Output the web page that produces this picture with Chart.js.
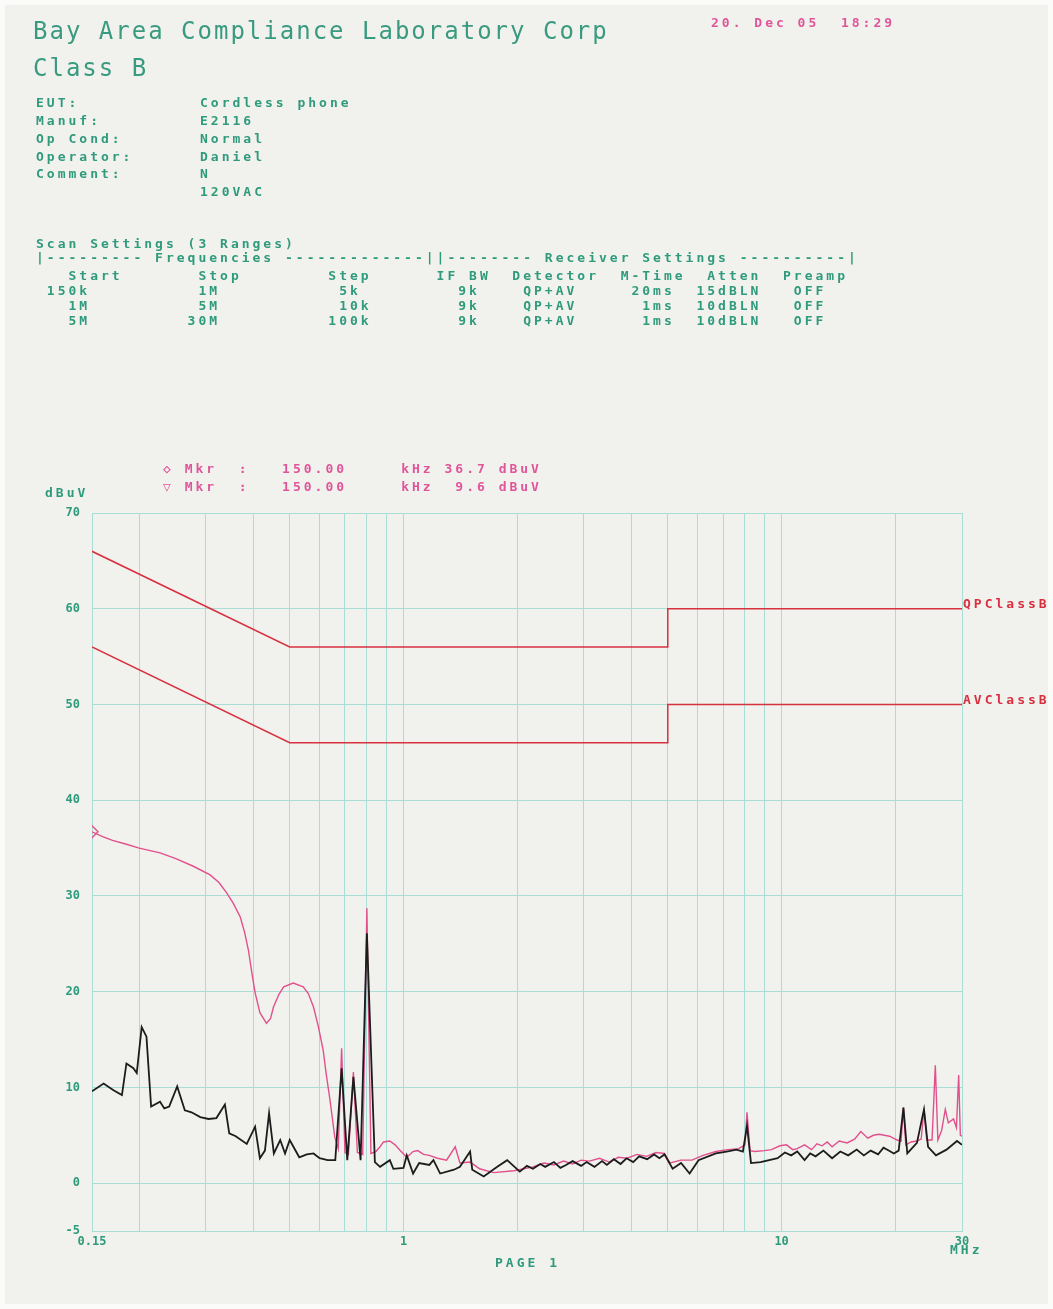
<!DOCTYPE html>
<html>
<head>
<meta charset="utf-8">
<script src="https://cdn.jsdelivr.net/npm/chart.js@4.4.0/dist/chart.umd.min.js"></script>
<style>
  html, body { margin: 0; padding: 0; background: #f1f2ee; }
  #wrap { position: relative; width: 1053px; height: 1309px; overflow: hidden; background: #f1f2ee; box-shadow: inset 0 0 0 5px #fbfbfa; }
  #emi { position: absolute; left: 0; top: 0; }
  .t { position: absolute; font-family: "DejaVu Sans Mono", monospace; white-space: pre; line-height: 1; }
  .big { font-size: 24px; letter-spacing: 2px; color: #3a9a80; }
  .sm { font-size: 13px; font-weight: bold; letter-spacing: 3px; color: #2f9a7c; }
  .pk { color: #e0559a; }
</style>
</head>
<body>
<div id="wrap">
  <canvas id="emi" width="1053" height="1309"></canvas>
</div>
<script>
// ---- data (MHz / dBuV) ----
var qpFreq = [0.15, 0.16, 0.17, 0.185, 0.2, 0.227, 0.25, 0.278, 0.308, 0.325, 0.341, 0.355, 0.37, 0.38, 0.389,
  0.397, 0.405, 0.417, 0.434, 0.445, 0.453, 0.468, 0.482, 0.511, 0.543, 0.56, 0.578, 0.595, 0.613, 0.625,
  0.639, 0.658, 0.672, 0.686, 0.7, 0.715, 0.737, 0.755, 0.78, 0.8, 0.82, 0.845, 0.867, 0.885, 0.92, 0.95,
  0.98, 1.02, 1.06, 1.09, 1.13, 1.17, 1.23, 1.3, 1.37, 1.41, 1.5, 1.59, 1.73, 1.96,
  2.2, 2.35, 2.5, 2.65, 2.8, 2.95, 3.1, 3.3, 3.5, 3.7, 3.9, 4.15, 4.4, 4.65, 4.9,
  5.07, 5.42, 5.79, 6.2, 6.7, 7.2, 7.7, 8.0, 8.1, 8.25, 8.5, 9.0,
  9.4, 9.9, 10.3, 10.7, 11.0, 11.5, 12.0, 12.4, 12.8, 13.2, 13.6,
  14.2, 14.9, 15.6, 16.2, 16.9, 17.5, 18.1, 19.3, 20.2, 20.7, 21.0, 21.3, 22.0, 22.8,
  23.4, 23.8, 24.2, 25.0, 25.5, 25.9, 26.5, 27.1, 27.6, 28.5, 29.0, 29.4, 29.7, 30];
var qpLevel = [36.7, 36.2, 35.8, 35.4, 35.0, 34.5, 33.9, 33.1, 32.2, 31.4, 30.3, 29.2, 27.8, 26.2, 24.3,
  22.0, 19.9, 17.8, 16.7, 17.2, 18.4, 19.7, 20.5, 20.9, 20.5, 19.8, 18.4, 16.4, 13.9, 11.3,
  8.7, 4.8, 3.6, 14.1, 3.2, 3.0, 11.6, 3.2, 3.0, 28.7, 3.1, 3.3, 3.8, 4.3, 4.4, 4.0,
  3.4, 2.7, 3.3, 3.4, 3.0, 2.9, 2.6, 2.4, 3.8, 2.1, 2.2, 1.5, 1.1, 1.3,
  1.7, 2.1, 1.9, 2.3, 2.0, 2.4, 2.3, 2.6, 2.2, 2.7, 2.6, 3.0, 2.8, 3.2, 3.1,
  2.1, 2.4, 2.4, 2.9, 3.3, 3.5, 3.6, 4.0, 7.4, 3.4, 3.3, 3.4,
  3.5, 3.9, 4.0, 3.5, 3.6, 4.0, 3.5, 4.1, 3.9, 4.3, 3.8,
  4.4, 4.2, 4.6, 5.4, 4.7, 5.0, 5.1, 4.9, 4.5, 4.4, 7.9, 4.0, 4.3, 4.4,
  4.6, 7.8, 4.5, 4.5, 12.3, 4.5, 5.5, 7.7, 6.3, 6.7, 5.8, 11.3, 5.0, 4.9];

var avFreq = [0.15, 0.161, 0.171, 0.18, 0.185, 0.193, 0.197, 0.203, 0.209, 0.215, 0.227, 0.233, 0.24, 0.252,
  0.264, 0.275, 0.29, 0.305, 0.32, 0.337, 0.346, 0.36, 0.385, 0.405, 0.417, 0.43, 0.441, 0.454, 0.472,
  0.486, 0.5, 0.53, 0.555, 0.578, 0.6, 0.63, 0.66, 0.686, 0.71, 0.737, 0.77, 0.8, 0.84, 0.867, 0.92,
  0.94, 1.0, 1.02, 1.06, 1.1, 1.17, 1.2, 1.25, 1.36, 1.41, 1.5, 1.52, 1.63, 1.77, 1.88,
  2.03, 2.12, 2.2, 2.3, 2.37, 2.5, 2.6, 2.69, 2.8, 2.95, 3.05, 3.2, 3.35, 3.45, 3.6, 3.75, 3.89, 4.05, 4.2, 4.41, 4.6, 4.75, 4.9,
  5.15, 5.42, 5.71, 6.03, 6.7, 7.15, 7.6, 7.9, 8.1, 8.3, 8.8,
  9.76, 10.2, 10.6, 11.0, 11.5, 11.9, 12.3, 12.9, 13.6, 14.3, 15.0, 15.8, 16.5, 17.2, 18.0, 18.6, 19.2, 19.8, 20.4,
  21.0, 21.5, 22.8, 23.8, 24.4, 25.6, 27.3, 29.1, 30];
var avLevel = [9.6, 10.4, 9.7, 9.2, 12.5, 12.0, 11.5, 16.3, 15.3, 8.0, 8.5, 7.8, 8.0, 10.1,
  7.6, 7.4, 6.9, 6.7, 6.8, 8.2, 5.2, 4.9, 4.1, 5.9, 2.6, 3.4, 7.3, 3.1, 4.5,
  3.1, 4.5, 2.7, 3.0, 3.1, 2.6, 2.4, 2.4, 12.0, 2.4, 11.1, 2.4, 26.1, 2.2, 1.7, 2.4,
  1.5, 1.6, 2.9, 1.0, 2.1, 1.9, 2.4, 1.0, 1.4, 1.7, 3.3, 1.4, 0.7, 1.7, 2.4,
  1.2, 1.8, 1.5, 2.0, 1.7, 2.2, 1.6, 1.9, 2.3, 1.8, 2.2, 1.7, 2.3, 1.9, 2.5, 2.0, 2.6, 2.2, 2.8, 2.5, 3.0, 2.6, 3.0,
  1.5, 2.1, 1.0, 2.4, 3.1, 3.3, 3.5, 3.3, 6.0, 2.1, 2.2,
  2.6, 3.2, 2.9, 3.3, 2.4, 3.1, 2.8, 3.4, 2.6, 3.3, 2.9, 3.5, 2.9, 3.4, 3.0, 3.7, 3.4, 3.1, 3.4,
  7.9, 3.1, 4.2, 7.7, 3.8, 2.9, 3.5, 4.4, 4.0];

var limitFreq = [0.15, 0.5, 5, 5, 30];
var qpLimitLevel = [66, 56, 56, 60, 60];
var avLimitLevel = [56, 46, 46, 50, 50];

var xGridTicks = [0.15, 0.2, 0.3, 0.4, 0.5, 0.6, 0.7, 0.8, 0.9, 1, 2, 3, 4, 5, 6, 7, 8, 9, 10, 20, 30];
var xLabelTicks = [0.15, 1, 10, 30];
var yTicks = [-5, 0, 10, 20, 30, 40, 50, 60, 70];

function pts(f, l) { return f.map(function (v, i) { return { x: v, y: l[i] }; }); }

var GREEN = '#2f9a7c';
var GRID = '#a9ddd6';
var PINK = '#e2508c';
var RED = '#d8303f';
var monoBold = { family: 'DejaVu Sans Mono', size: 12, weight: 'bold' };

// ---- page texts ----
var wrap = document.getElementById('wrap');
function put(text, x, cy, cls) {
  var d = document.createElement('div');
  d.className = 't ' + cls;
  d.textContent = text;
  d.style.left = x + 'px';
  d.style.top = (cy - (cls.indexOf('big') >= 0 ? 11.5 : 6.5)) + 'px';
  wrap.appendChild(d);
}
function row(items, x0, cy, cls) {
  var s = '';
  items.forEach(function (it) {
    while (s.length < it[0]) s += ' ';
    s += it[1];
  });
  put(s, x0, cy, cls);
}

put('Bay Area Compliance Laboratory Corp', 33, 30, 'big');
put('Class B', 33, 67, 'big');
put('20. Dec 05  18:29', 711, 22, 'sm pk');

var infoKeys = ['EUT:', 'Manuf:', 'Op Cond:', 'Operator:', 'Comment:', ''];
var infoVals = ['Cordless phone', 'E2116', 'Normal', 'Daniel', 'N', '120VAC'];
var infoY = [102, 120, 138, 156, 173, 191];
infoKeys.forEach(function (k, i) {
  put(k, 36, infoY[i], 'sm');
  put(infoVals[i], 200, infoY[i], 'sm');
});

put('Scan Settings (3 Ranges)', 36, 243, 'sm');
row([[0, '|---------'], [11, 'Frequencies'], [23, '-------------||'], [38, '--------'], [47, 'Receiver Settings'], [65, '----------|']], 36, 257, 'sm');
row([[3, 'Start'], [15, 'Stop'], [27, 'Step'], [37, 'IF BW'], [44, 'Detector'], [54, 'M-Time'], [62, 'Atten'], [69, 'Preamp']], 36, 275, 'sm');
row([[1, '150k'], [15, '1M'], [28, '5k'], [39, '9k'], [45, 'QP+AV'], [55, '20ms'], [61, '15dBLN'], [70, 'OFF']], 36, 290, 'sm');
row([[3, '1M'], [15, '5M'], [28, '10k'], [39, '9k'], [45, 'QP+AV'], [56, '1ms'], [61, '10dBLN'], [70, 'OFF']], 36, 305, 'sm');
row([[3, '5M'], [14, '30M'], [27, '100k'], [39, '9k'], [45, 'QP+AV'], [56, '1ms'], [61, '10dBLN'], [70, 'OFF']], 36, 320, 'sm');

row([[0, '\u25C7'], [2, 'Mkr'], [7, ':'], [11, '150.00'], [22, 'kHz'], [26, '36.7'], [31, 'dBuV']], 163, 468, 'sm pk');
row([[0, '\u25BD'], [2, 'Mkr'], [7, ':'], [11, '150.00'], [22, 'kHz'], [27, '9.6'], [31, 'dBuV']], 163, 486, 'sm pk');

put('dBuV', 45, 492, 'sm');
put('MHz', 950, 1249, 'sm');
put('PAGE 1', 495, 1262, 'sm');

// ---- limit line names ----
var limitLabels = {
  id: 'limitLabels',
  afterDatasetsDraw: function (chart) {
    var ctx = chart.ctx, x = chart.scales.x, y = chart.scales.y;
    ctx.save();
    ctx.font = 'bold 13px "DejaVu Sans Mono"';
    ctx.letterSpacing = '3px';
    ctx.fillStyle = RED;
    ctx.textBaseline = 'middle';
    ctx.fillText('QPClassB', x.right + 1, y.getPixelForValue(qpLimitLevel[qpLimitLevel.length - 1]) - 4);
    ctx.fillText('AVClassB', x.right + 1, y.getPixelForValue(avLimitLevel[avLimitLevel.length - 1]) - 4);
    ctx.restore();
  }
};

var config = {
  type: 'line',
  data: {
    datasets: [{
      label: 'AV',
      data: pts(avFreq, avLevel),
      borderColor: '#1c1c1c',
      borderWidth: 1.8,
      pointRadius: 0
    }, {
      label: 'QP',
      data: pts(qpFreq, qpLevel),
      borderColor: PINK,
      borderWidth: 1.4,
      pointStyle: 'rectRot',
      pointRadius: function (c) { return c.dataIndex === 0 ? 6 : 0; },
      pointBorderColor: PINK,
      pointBackgroundColor: 'rgba(0,0,0,0)',
      pointBorderWidth: 1.4
    }, {
      label: 'QPClassB',
      data: pts(limitFreq, qpLimitLevel),
      borderColor: RED,
      borderWidth: 1.5,
      pointRadius: 0
    }, {
      label: 'AVClassB',
      data: pts(limitFreq, avLimitLevel),
      borderColor: RED,
      borderWidth: 1.5,
      pointRadius: 0
    }]
  },
  options: {
    responsive: false,
    animation: false,
    events: [],
    layout: { padding: { left: 0, top: 513, right: 91, bottom: 0 } },
    plugins: { legend: { display: false }, tooltip: { enabled: false } },
    elements: { line: { tension: 0 } },
    scales: {
      x: {
        type: 'logarithmic',
        min: 0.15,
        max: 30,
        afterBuildTicks: function (s) { s.ticks = xGridTicks.map(function (v) { return { value: v }; }); },
        afterFit: function (s) { s.height = 78; },
        grid: { color: GRID, lineWidth: 1, drawTicks: false },
        border: { color: GRID },
        ticks: {
          autoSkip: false,
          maxRotation: 0,
          padding: 4,
          color: GREEN,
          font: monoBold,
          callback: function (v) { return xLabelTicks.indexOf(v) >= 0 ? String(v) : ''; }
        }
      },
      y: {
        min: -5,
        max: 70,
        afterBuildTicks: function (s) { s.ticks = yTicks.map(function (v) { return { value: v }; }); },
        afterFit: function (s) { s.width = 92; },
        grid: { color: GRID, lineWidth: 1, drawTicks: false },
        border: { color: GRID },
        ticks: { padding: 12, color: GREEN, font: monoBold }
      }
    }
  },
  plugins: [limitLabels]
};

var ctx = document.getElementById('emi').getContext('2d');
window.emiChart = new Chart(ctx, config);
</script>
</body>
</html>
